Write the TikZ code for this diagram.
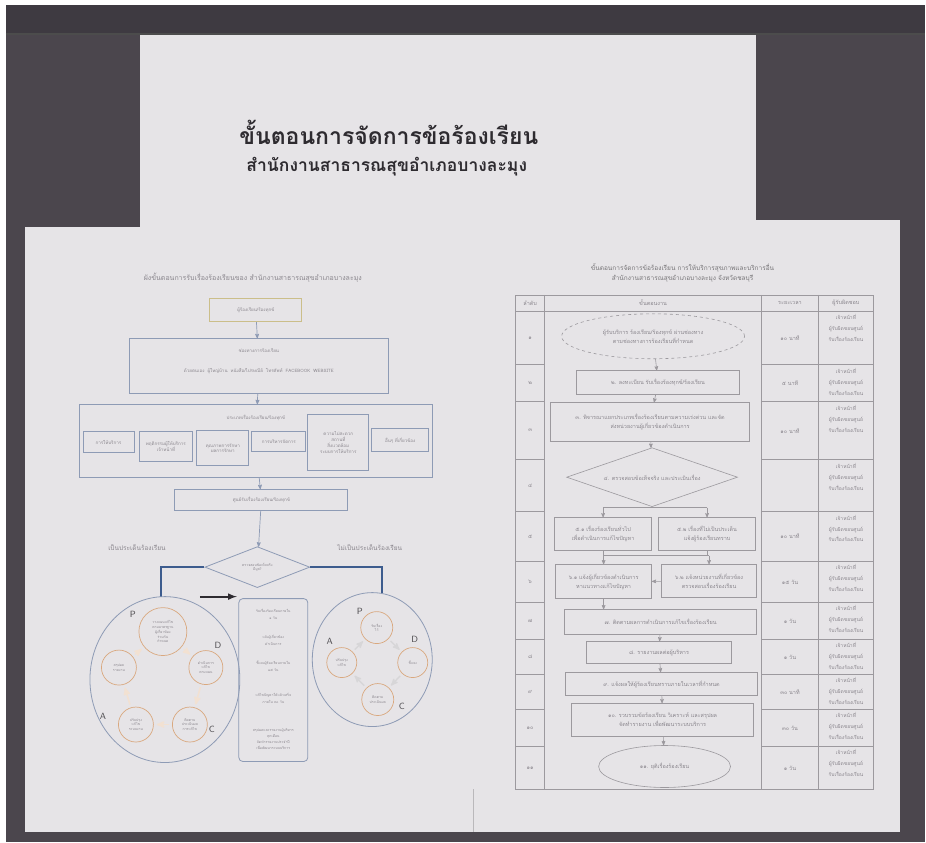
\documentclass[tikz,border=0pt]{standalone}
\usepackage{fontspec}
\newfontfamily\thaifont[Script=Thai]{Loma}
\usetikzlibrary{positioning, arrows, shapes.geometric}
\definecolor{wall}{HTML}{4B464D}
\definecolor{walltop}{HTML}{3E3A41}
\definecolor{paper}{HTML}{E6E4E7}
\definecolor{ink}{HTML}{2E2B30}
\definecolor{faint}{HTML}{8A868D}
\definecolor{frame}{HTML}{8E9BB5}
\definecolor{olive}{HTML}{CBBE8A}
\definecolor{ochre}{HTML}{D9A87F}
\definecolor{navy}{HTML}{3D5C8E}
\definecolor{grid}{HTML}{9C999E}
\newcommand\sheetfont{\thaifont\fontsize{4.5}{6}\selectfont}
\newcommand\flowfont{\thaifont\fontsize{5.5}{9}\selectfont}
\tikzset{
x=1pt, y=-1pt, % one unit is one pixel of the photo, y grows downwards
>=stealth', % small bold arrow heads
wh/.style 2 args={minimum width=#1pt, minimum height=#2pt}, % size of a box
lbox/.style={draw=frame, line width=0.8pt, inner sep=1pt, align=center, font=\sheetfont, text=faint}, % boxes of the left sheet
ltext/.style={font=\sheetfont, text=faint, align=center, inner sep=0pt}, % loose texts of the left sheet
ring/.style={circle, draw=ochre, line width=0.7pt, inner sep=0pt, align=center, font=\thaifont\fontsize{3.5}{4.5}\selectfont, text=faint}, % PDCA circles
pdca/.style={font=\sffamily\fontsize{9}{9}\selectfont, text=ink!85}, % the letters P D C A
fbox/.style={draw=grid, line width=0.6pt, inner sep=1pt, align=center, font=\flowfont, text=faint}, % boxes of the right sheet
cell/.style={font=\flowfont, text=faint, align=center, inner sep=0pt}, % texts of the table
}
\begin{document}
\begin{tikzpicture}
% wall and the three sheets
\fill[white] (0,0) rectangle (926,843);
\fill[wall] (6,5) rectangle (926,843);
\fill[walltop] (6,5) rectangle (926,34);
\draw[black!70, line width=1.2pt] (6,34) -- (926,34);
\fill[paper] (140,35) rectangle (756,229);
\fill[paper] (25,227) rectangle (473,833);
\fill[paper] (473,220) rectangle (901,833);
\draw[grid!70, very thin] (473,790) -- (473,833);

% heading sheet
\node[font=\thaifont\bfseries\fontsize{23}{27}\selectfont, text=ink] (title) at (389,132) {ขั้นตอนการจัดการข้อร้องเรียน};
\node[font=\thaifont\bfseries\fontsize{17.5}{20}\selectfont, text=ink] (subtitle) at (387,167) {สำนักงานสาธารณสุขอำเภอบางละมุง};

% left sheet
\node[ltext, font=\thaifont\fontsize{7}{8}\selectfont] (lhead) at (253,278) {ผังขั้นตอนการรับเรื่องร้องเรียนของ สำนักงานสาธารณสุขอำเภอบางละมุง};
\node[lbox, draw=olive, wh={92}{23}] (who) at (256,310.5) {ผู้ร้องเรียน/ร้องทุกข์};
\node[lbox, wh={260}{55}] (chan) at (259,366.5) {};
\node[ltext] (chanT) at (259,351) {ช่องทางการร้องเรียน};
\node[ltext] (chanL) at (259,371) {ด้วยตนเอง \ ผู้ใหญ่บ้าน \ หนังสือ/ไปรษณีย์ \ โทรศัพท์ \ FACEBOOK \ WEBSITE};
\node[lbox, wh={354}{73}] (kind) at (256,441.5) {};
\node[ltext] (kindT) at (256,418) {ประเภทเรื่องร้องเรียน/ร้องทุกข์};
\node[lbox, wh={51}{21}] (k1) at (108.5,442.5) {การให้บริการ};
\node[lbox, wh={54}{30}] (k2) at (166,447) {พฤติกรรมผู้ให้บริการ\\เจ้าหน้าที่};
\node[lbox, wh={52}{35}] (k3) at (223,448.5) {คุณภาพการรักษา\\ผลการรักษา};
\node[lbox, wh={54}{20}] (k4) at (279,442) {การบริหารจัดการ};
\node[lbox, wh={61}{56}] (k5) at (338.5,443) {ความไม่สะดวก\\สถานที่\\สิ่งแวดล้อม\\ระบบการให้บริการ};
\node[lbox, wh={57}{23}] (k6) at (400.5,440.5) {อื่นๆ ที่เกี่ยวข้อง};
\node[lbox, wh={173}{21}] (hub) at (261.5,500.5) {ศูนย์รับเรื่องร้องเรียน/ร้องทุกข์};
\node[lbox, diamond, aspect=2.5, wh={105}{41}, font=\thaifont\fontsize{3.5}{4.5}\selectfont] (check) at (257.5,567.5) {ตรวจสอบข้อเท็จจริง\\มีมูล?};
\node[ltext, font=\thaifont\fontsize{6.5}{8}\selectfont] (yes) at (137,548) {เป็นประเด็นร้องเรียน};
\node[ltext, font=\thaifont\fontsize{6.5}{8}\selectfont] (no) at (370,548) {ไม่เป็นประเด็นร้องเรียน};
\draw[->, frame, line width=0.7pt]
(who) edge (chan)
(chan) edge (kind)
(kind) edge (hub)
(hub) edge (check);
\coordinate (pL) at (161,597);
\coordinate (pR) at (382,593);
\draw[navy, line width=2.5pt] (check.west) -| (pL);
\draw[navy, line width=2.5pt] (check.east) -| (pR);
\coordinate (goA) at (200,597);
\coordinate (goB) at (237,597);
\draw[->, >=latex, ink, line width=2pt] (goA) -- (goB);

% PDCA, complaint
\node[ellipse, draw=frame, line width=0.8pt, wh={150}{166}] (cycL) at (165,680) {};
\node[ring, minimum size=48pt] (lP) at (163,632) {วางแผนแก้ไข\\ตามมาตรฐาน\\ผู้เกี่ยวข้อง\\ร่วมกัน\\กำหนด};
\node[ring, minimum size=34pt] (lD) at (206,668) {ดำเนินการ\\แก้ไข\\ตามแผน};
\node[ring, minimum size=35pt] (lC) at (190,725) {ติดตาม\\ประเมินผล\\การแก้ไข};
\node[ring, minimum size=35pt] (lA) at (136,725) {ปรับปรุง\\แก้ไข\\ระบบงาน};
\node[ring, minimum size=35pt] (lS) at (119,668) {สรุปผล\\รายงาน};
\node[pdca] (lPt) at (133,615) {P};
\node[pdca] (lDt) at (218,646) {D};
\node[pdca] (lCt) at (212,730) {C};
\node[pdca] (lAt) at (103,717) {A};
\draw[->, ochre!35, line width=1.6pt, shorten >=3pt, shorten <=3pt]
(lP) edge (lD)
(lD) edge (lC)
(lC) edge (lA)
(lA) edge (lS)
(lS) edge (lP);
\node[lbox, rounded corners=4pt, wh={69}{163}] (todo) at (273.5,680.5) {};
\node[ltext, font=\thaifont\fontsize{3.5}{7}\selectfont] (t1) at (273.5,615) {รับเรื่องร้องเรียนภายใน\\๑ วัน};
\node[ltext, font=\thaifont\fontsize{3.5}{7}\selectfont] (t2) at (273.5,641) {แจ้งผู้เกี่ยวข้อง\\ดำเนินการ};
\node[ltext, font=\thaifont\fontsize{3.5}{7}\selectfont] (t3) at (273.5,667) {ชี้แจงผู้ร้องเรียนภายใน\\๑๕ วัน};
\node[ltext, font=\thaifont\fontsize{3.5}{7}\selectfont] (t4) at (273.5,699) {แก้ไขปัญหาให้แล้วเสร็จ\\ภายใน ๓๐ วัน};
\node[ltext, font=\thaifont\fontsize{3.5}{6}\selectfont] (t5) at (273.5,740) {สรุปผลและรายงานผู้บริหาร\\ทุกเดือน\\จัดทำรายงานประจำปี\\เพื่อพัฒนาระบบบริการ};

% PDCA, no complaint
\node[ellipse, draw=frame, line width=0.8pt, wh={120}{134}] (cycR) at (372.5,660) {};
\node[ring, minimum size=32pt] (rP) at (377,628) {รับเรื่อง\\ไว้};
\node[ring, minimum size=30pt] (rD) at (413,663) {ชี้แจง};
\node[ring, minimum size=32pt] (rC) at (378,700) {ติดตาม\\ประเมินผล};
\node[ring, minimum size=30pt] (rA) at (342,663) {ปรับปรุง\\แก้ไข};
\node[pdca] (rPt) at (360,612) {P};
\node[pdca] (rDt) at (415,640) {D};
\node[pdca] (rCt) at (402,707) {C};
\node[pdca] (rAt) at (330,642) {A};
\draw[->, grid!40, line width=1.4pt, shorten >=3pt, shorten <=3pt]
(rP) edge (rD)
(rD) edge (rC)
(rC) edge (rA)
(rA) edge (rP);

% right sheet, table
\node[cell, font=\thaifont\fontsize{6.5}{10}\selectfont, text=ink!65] (rhead) at (683,273) {ขั้นตอนการจัดการข้อร้องเรียน การให้บริการสุขภาพและบริการอื่น\\สำนักงานสาธารณสุขอำเภอบางละมุง จังหวัดชลบุรี};
\draw[grid, line width=0.6pt] (516,295) rectangle (874,790);
\foreach \xx in {545,762,819}
\draw[grid, line width=0.6pt] (\xx,295) -- (\xx,790);
\draw[grid, line width=0.6pt] (516,311) -- (874,311);
\foreach \yy in {365,402,460,512,562,603,640,675,710,747} {
\draw[grid, line width=0.6pt] (516,\yy) -- (545,\yy);
\draw[grid, line width=0.6pt] (762,\yy) -- (874,\yy);
}
\node[cell] (hNo) at (530.5,303) {ลำดับ};
\node[cell] (hStep) at (653.5,303) {ขั้นตอนงาน};
\node[cell] (hTime) at (790.5,303) {ระยะเวลา};
\node[cell] (hWho) at (846.5,303) {ผู้รับผิดชอบ};
\foreach \ya/\yb/\idx/\dur in {311/365/๑/๑๐ นาที, 365/402/๒/๕ นาที, 402/460/๓/๑๐ นาที, 460/512/๔/{}, 512/562/๕/๑๐ นาที, 562/603/๖/๑๕ วัน, 603/640/๗/๑ วัน, 640/675/๘/๑ วัน, 675/710/๙/๓๐ นาที, 710/747/๑๐/๓๐ วัน, 747/790/๑๑/๑ วัน} {
\node[cell] at (530.5,{(\ya+\yb)/2}) {\idx};
\node[cell] at (790.5,{(\ya+\yb)/2}) {\dur};
\node[cell, anchor=north, font=\thaifont\fontsize{5}{11}\selectfont] at (846.5,\ya+3) {เจ้าหน้าที่\\ผู้รับผิดชอบศูนย์\\รับเรื่องร้องเรียน};
}

% right sheet, flow
\node[fbox, ellipse, dashed, wh={183}{45}] (s1) at (653.5,336.5) {ผู้รับบริการ ร้องเรียน/ร้องทุกข์ ผ่านช่องทาง\\ตามช่องทางการร้องเรียนที่กำหนด};
\node[fbox, wh={163}{24}] (s2) at (658.5,383) {๒. ลงทะเบียน รับเรื่องร้องทุกข์/ร้องเรียน};
\node[fbox, wh={199}{39}] (s3) at (650.5,422.5) {๓. พิจารณาแยกประเภทเรื่องร้องเรียนตามความเร่งด่วน และจัด\\ส่งหน่วยงานผู้เกี่ยวข้องดำเนินการ};
\node[fbox, diamond, aspect=2.9, wh={171}{59}] (s4) at (652.5,477.5) {๔. ตรวจสอบข้อเท็จจริง และประเมินเรื่อง};
\node[fbox, wh={97}{33}] (s5a) at (603.5,534.5) {๕.๑ เรื่องร้องเรียนทั่วไป\\เพื่อดำเนินการแก้ไขปัญหา};
\node[fbox, wh={97}{33}] (s5b) at (707.5,534.5) {๕.๒ เรื่องที่ไม่เป็นประเด็น\\แจ้งผู้ร้องเรียนทราบ};
\node[fbox, wh={96}{34}] (s6a) at (604,582) {๖.๑ แจ้งผู้เกี่ยวข้องดำเนินการ\\หาแนวทางแก้ไขปัญหา};
\node[fbox, wh={95}{33}] (s6b) at (709.5,581.5) {๖.๒ แจ้งหน่วยงานที่เกี่ยวข้อง\\ตรวจสอบเรื่องร้องเรียน};
\node[fbox, wh={192}{25}] (s7) at (661,622.5) {๗. ติดตามผลการดำเนินการแก้ไขเรื่องร้องเรียน};
\node[fbox, wh={145}{22}] (s8) at (659.5,653) {๘. รายงานผลต่อผู้บริหาร};
\node[fbox, wh={192}{23}] (s9) at (662,684.5) {๙. แจ้งผลให้ผู้ร้องเรียนทราบภายในเวลาที่กำหนด};
\node[fbox, wh={182}{33}] (s10) at (663,720.5) {๑๐. รวบรวมข้อร้องเรียน วิเคราะห์ และสรุปผล\\จัดทำรายงาน เพื่อพัฒนาระบบบริการ};
\node[fbox, ellipse, wh={132}{42}] (s11) at (665,767) {๑๑. ยุติเรื่องร้องเรียน};
\coordinate (fork) at (652.5,508);
\coordinate (join) at (603.5,556);
\draw[->, grid, line width=0.6pt]
(s1) edge (s2)
(s2) edge (s3)
(s3) edge (s4)
(s6b) edge (s6a)
(s7) edge (s8)
(s8) edge (s9)
(s9) edge (s10)
(s10) edge (s11);
\draw[grid, line width=0.6pt] (s5a.north |- fork) -- (s5b.north |- fork);
\draw[->, grid, line width=0.6pt] (s5a.north |- fork) -- (s5a.north);
\draw[->, grid, line width=0.6pt] (s5b.north |- fork) -- (s5b.north);
\draw[grid, line width=0.6pt] (s5a.south) -- (join) (s5b.south) -- (s5b.south |- join);
\draw[grid, line width=0.6pt] (s6a.north |- join) -- (s6b.north |- join);
\draw[->, grid, line width=0.6pt] (s6a.north |- join) -- (s6a.north);
\draw[->, grid, line width=0.6pt] (s6b.north |- join) -- (s6b.north);
\draw[->, grid, line width=0.6pt] (s6a.south) -- (s6a.south |- s7.north);
\end{tikzpicture}
\end{document}
